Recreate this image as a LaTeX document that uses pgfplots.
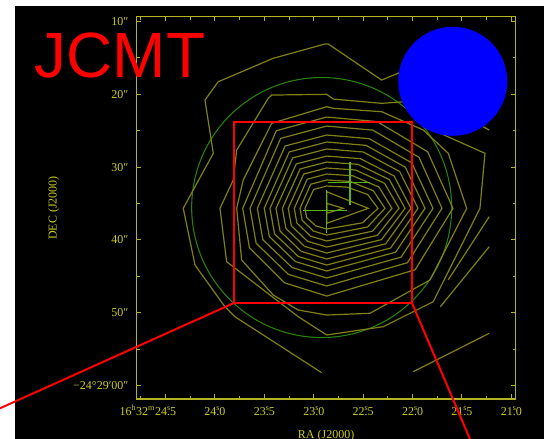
\documentclass[border=0pt]{standalone}
\usepackage{fontspec}
\setmainfont{Liberation Serif}
\newfontfamily\arialfont{Liberation Sans}
\usepackage{pgfplots}
\pgfplotsset{compat=1.18}
\definecolor{axyellow}{RGB}{180,180,35}
\definecolor{labelyellow}{RGB}{205,205,30}
\definecolor{cyellow}{RGB}{128,128,22}
\definecolor{gcirc}{RGB}{40,130,10}
\definecolor{gcross}{RGB}{90,180,20}
\newcommand{\rs}[2]{#1\rlap{\textsuperscript{s}}.#2}
\begin{document}
\begin{tikzpicture}
\useasboundingbox (-102.5pt,-30pt) rectangle (305.5pt,299.25pt);
\clip (-102.5pt,-30pt) rectangle (305.5pt,299.25pt);
\fill[white] (-102.5pt,-30pt) rectangle (305.5pt,299.25pt);
\fill[black] (-91.25pt,-30pt) rectangle (305.5pt,294.75pt);
\begin{axis}[
  at={(0pt,0pt)}, anchor=south west,
  scale only axis, width=284.25pt, height=286.7pt,
  xmin=20.9565, xmax=24.7925, ymin=9.341, ymax=61.854,
  x dir=reverse, y dir=reverse,
  clip=false,
  axis line style={draw=axyellow, line width=0.8pt},
  tick style={draw=axyellow, line width=0.8pt},
  tick align=inside,
  major tick length=3.5pt, minor tick length=2.25pt,
  xtick={21,21.5,22,22.5,23,23.5,24,24.5},
  xticklabels={\rs{21}{0},\rs{21}{5},\rs{22}{0},\rs{22}{5},\rs{23}{0},\rs{23}{5},\rs{24}{0},\llap{16\textsuperscript{h}32\textsuperscript{m}}\rs{24}{5}},
  minor xtick={21.25,21.75,22.25,22.75,23.25,23.75,24.25,24.75},
  ytick={10,20,30,40,50,60},
  yticklabels={10″,20″,30″,40″,50″,−24°29′00″},
  minor ytick={15,25,35,45,55},
  tick label style={font=\fontsize{9}{10}\selectfont, text=labelyellow, inner sep=1pt},
  xticklabel style={text height=6.5pt, yshift=-4.5pt},
  yticklabel style={xshift=-5pt},
  xlabel={RA (J2000)}, ylabel={DEC (J2000)},
  label style={font=\fontsize{9}{10}\selectfont, text=labelyellow},
  xlabel style={at={(axis description cs:0.5,0)}, anchor=base, yshift=-29.5pt},
  ylabel style={at={(axis description cs:-0.2111,0.5)}, anchor=base},
  every axis plot/.append style={mark=none},
]
% green beam circle
\draw[gcirc, line width=0.8pt] (axis cs:22.920,35.55) circle[radius=97.5pt];
% contours
\addplot[cyellow, line width=0.9pt] coordinates {(22.869,34.97) (22.701,35.66) (22.869,36.34) (22.869,34.97)};
\addplot[cyellow, line width=0.9pt] coordinates {(22.869,33.38) (22.448,35.66) (22.869,37.72) (22.869,33.38)};
\addplot[cyellow, line width=0.9pt] coordinates {(23.089,35.66) (23.001,33.06) (22.869,32.60) (22.661,32.75) (22.454,33.76) (22.350,35.66) (22.506,37.65) (22.869,38.50) (22.979,38.07) (23.071,36.94) (23.089,35.66)};
\addplot[cyellow, line width=0.9pt] coordinates {(23.139,35.66) (23.031,32.35) (22.869,31.77) (22.633,31.96) (22.397,33.25) (22.279,35.66) (22.456,38.23) (22.869,39.33) (23.004,38.78) (23.117,37.31) (23.139,35.66)};
\addplot[cyellow, line width=0.9pt] coordinates {(23.197,35.66) (23.066,31.66) (22.869,30.95) (22.605,31.19) (22.340,32.74) (22.208,35.66) (22.406,38.80) (22.869,40.15) (23.033,39.48) (23.171,37.68) (23.197,35.66)};
\addplot[cyellow, line width=0.9pt] coordinates {(23.258,35.66) (23.102,30.95) (22.869,30.12) (22.576,30.40) (22.283,32.23) (22.137,35.66) (22.357,39.38) (22.869,40.98) (23.064,40.18) (23.227,38.05) (23.258,35.66)};
\addplot[cyellow, line width=0.9pt] coordinates {(23.318,35.66) (23.138,30.25) (22.869,29.30) (22.552,29.62) (22.235,31.72) (22.076,35.66) (22.314,39.96) (22.869,41.80) (23.094,40.88) (23.282,38.42) (23.318,35.66)};
\addplot[cyellow, line width=0.9pt] coordinates {(23.382,35.66) (23.177,29.56) (22.869,28.48) (22.528,28.84) (22.187,31.21) (22.016,35.66) (22.272,40.53) (22.869,42.62) (23.126,41.58) (23.341,38.79) (23.382,35.66)};
\addplot[cyellow, line width=0.9pt] coordinates {(23.443,35.66) (23.213,28.73) (22.869,27.51) (22.499,27.92) (22.130,30.61) (21.945,35.66) (22.222,41.11) (22.869,43.45) (23.156,42.28) (23.397,39.17) (23.443,35.66)};
\addplot[cyellow, line width=0.9pt] coordinates {(23.501,35.66) (23.248,27.92) (22.869,26.55) (22.471,27.01) (22.073,30.01) (21.874,35.66) (22.172,41.69) (22.869,44.27) (23.185,42.98) (23.450,39.53) (23.501,35.66)};
\addplot[cyellow, line width=0.9pt] coordinates {(23.571,35.66) (23.290,27.10) (22.869,25.59) (22.439,26.09) (22.008,29.42) (21.793,35.66) (22.116,42.36) (22.869,45.23) (23.220,43.79) (23.515,39.97) (23.571,35.66)};
\addplot[cyellow, line width=0.9pt] coordinates {(23.645,35.66) (23.335,26.05) (22.869,24.36) (22.402,24.92) (21.935,28.65) (21.702,35.66) (22.052,43.13) (22.869,46.33) (23.257,44.73) (23.583,40.46) (23.645,35.66)};
\addplot[cyellow, line width=0.9pt] coordinates {(23.719,35.66) (23.379,25.00) (22.869,23.12) (22.358,23.75) (21.847,27.89) (21.591,35.66) (21.974,44.10) (22.869,47.71) (23.294,45.90) (23.651,41.08) (23.719,35.66)};
\addplot[cyellow, line width=0.9pt] coordinates {(23.780,35.66) (23.714,31.77) (23.426,23.98) (22.869,21.70) (22.803,21.92) (22.313,22.39) (21.892,24.90) (21.639,28.10) (21.452,35.66) (21.824,45.51) (22.431,50.08) (22.869,50.32) (23.157,49.63) (23.410,47.57) (23.730,42.76) (23.780,35.66)};
\addplot[cyellow, line width=0.9pt] coordinates {(23.949,35.66) (23.815,31.77) (23.780,27.65) (23.461,20.55) (23.426,20.10) (22.869,20.00) (22.803,20.65) (22.313,21.24) (22.094,21.02) (21.925,22.84) (21.756,25.14) (21.267,28.10) (21.318,35.66) (21.791,48.49) (22.297,51.92) (22.869,53.06) (23.157,50.55) (23.443,47.57) (23.882,42.99) (23.949,35.66)};
\addplot[cyellow, line width=0.9pt] coordinates {(21.224,24.90) (21.318,24.22) (22.110,16.90) (22.313,18.04) (22.853,13.09) (22.887,13.09) (23.410,15.05) (23.967,18.27) (24.101,20.78) (24.017,28.10) (24.321,35.66) (24.202,43.45) (23.899,49.18) (23.798,50.55) (22.920,58.24)};
\addplot[cyellow, line width=0.9pt] coordinates {(21.993,58.10) (21.224,52.83)};
\addplot[cyellow, line width=0.9pt] coordinates {(21.224,36.81) (21.640,45.50)};
\addplot[cyellow, line width=0.9pt] coordinates {(21.224,40.93) (21.720,49.20)};
% green crosses
\addplot[gcross, line width=0.9pt] coordinates {(22.634,29.26) (22.634,35.21)};
\addplot[gcross, line width=0.9pt] coordinates {(22.853,32.14) (22.431,32.14)};
\addplot[gcross, line width=0.9pt] coordinates {(22.869,33.15) (22.869,39.09)};
\addplot[gcross, line width=0.9pt] coordinates {(23.106,35.99) (22.667,35.99)};
% anchor coordinates for overlays
\coordinate (rb1) at (axis cs:23.808,23.80);
\coordinate (rb2) at (axis cs:22.006,48.67);
\coordinate (rbl) at (axis cs:23.808,48.67);
\coordinate (rl1) at (axis cs:26.176,63.13);
\coordinate (rl2) at (axis cs:21.419,67.35);
\coordinate (bc) at (axis cs:21.593,18.21);
\end{axis}
\fill[blue] (bc) circle[radius=40.9pt];
\draw[red, line width=1.5pt] (rb1) rectangle (rb2);
\draw[red, line width=1.5pt] (rbl) -- (rl1);
\draw[red, line width=1.5pt] (rb2) -- (rl2);
\node[anchor=base west, inner sep=0pt, text=red, font=\arialfont\fontsize{48}{48}\selectfont] at (-76.8pt,241pt) {JCMT};
\end{tikzpicture}
\end{document}
